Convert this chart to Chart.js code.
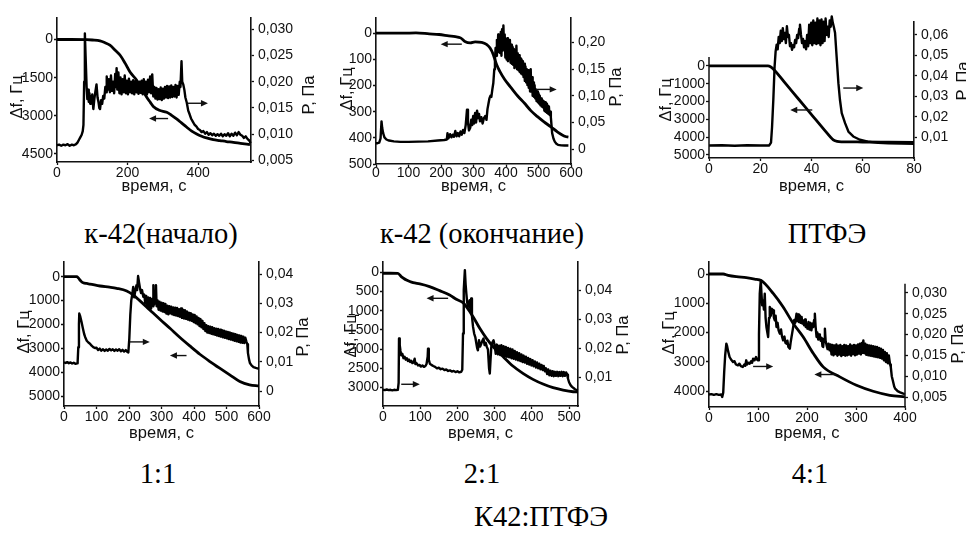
<!DOCTYPE html>
<html><head><meta charset="utf-8">
<script src="https://cdn.jsdelivr.net/npm/chart.js@4.4.1/dist/chart.umd.min.js"></script>
<style>
html,body{margin:0;padding:0;background:#fff;}
body{width:966px;height:534px;position:relative;overflow:hidden;}
canvas{position:absolute;}
.cap{position:absolute;width:400px;text-align:center;font-family:'Liberation Serif','Times New Roman',serif;font-size:28.5px;line-height:28px;color:#000;white-space:nowrap;}
</style></head><body>
<div class="cap" style="left:-39px;top:220px">к-42(начало)</div>
<div class="cap" style="left:282px;top:220px">к-42 (окончание)</div>
<div class="cap" style="left:627px;top:220px">ПТФЭ</div>
<div class="cap" style="left:-42px;top:460px">1:1</div>
<div class="cap" style="left:282px;top:460px">2:1</div>
<div class="cap" style="left:610px;top:460px">4:1</div>
<div class="cap" style="left:341px;top:503px">К42:ПТФЭ</div>
<canvas id="c1"></canvas><canvas id="c2"></canvas><canvas id="c3"></canvas>
<canvas id="c4"></canvas><canvas id="c5"></canvas><canvas id="c6"></canvas>
<script>
// ---------- DATA: [time s, value] ----------
// к-42 (начало)
const k42s_df = [[0,0],[40,0],[84,5],[100,20],[122,55],[135,120],[150,225],[165,420],[179,620],[193,930],[207,1280],[226,1600],[240,1920],[254,2260],[265,2480],[273,2630],[290,2780],[311,2860],[325,2980],[339,3120],[353,3280],[368,3450],[382,3600],[396,3710],[410,3800],[424,3870],[443,3940],[462,3975],[480,4010],[500,4040],[520,4080],[547,4130]];
const k42s_P = [[0,.0079],[6,.0080],[12,.0078],[18,.0080],[24,.0079],[30,.0081],[36,.0078],[42,.0080],[48,.0079],[54,.0081],[58,.0084],[62,.0089],[66,.0094],[70,.0099],[73,.0106],[75,.0118],[77,.0200],[79,.0292],[81,.0250],[84,.0190],[86,.0167],[88,.0185],[90,.0162],[92,.0178],[94,.0158],[96,.0172],[98,.0160],[100,.0176],[103,.0148],[106,.0168],[109,.0182],[112,.0195],[115,.0170],[118,.0160],[120,.0150],[122,.0148],[125,.0165],[128,.0158],[131,.0173],[134,.0168],[137,.0190],[139,.0180],[141,.0210],[144,.0185],[147,.0205],[150,.0180],[153,.0212],[156,.0183],[159,.0200],[162,.0178],[165,.0215],[167,.0190],[169,.0226],[171,.0185],[174,.0218],[177,.0178],[180,.0208],[183,.0176],[186,.0205],[189,.0180],[192,.0212],[195,.0178],[198,.0202],[201,.0176],[204,.0206],[207,.0180],[210,.0200],[213,.0178],[216,.0203],[219,.0176],[222,.0201],[225,.0180],[228,.0198],[231,.0177],[234,.0200],[237,.0179],[240,.0202],[243,.0176],[246,.0205],[249,.0178],[252,.0200],[255,.0176],[258,.0204],[261,.0180],[264,.0210],[267,.0178],[270,.0214],[273,.0172],[276,.0190],[279,.0168],[282,.0188],[285,.0166],[288,.0186],[291,.0167],[294,.0189],[297,.0165],[300,.0187],[303,.0168],[306,.0190],[309,.0170],[312,.0192],[315,.0169],[318,.0191],[321,.0170],[324,.0193],[327,.0171],[330,.0190],[333,.0172],[336,.0194],[339,.0170],[342,.0192],[345,.0175],[348,.0200],[350,.0190],[353,.0239],[355,.0200],[358,.0195],[361,.0185],[364,.0170],[368,.0160],[372,.0145],[376,.0138],[380,.0130],[385,.0124],[390,.0118],[395,.0115],[400,.0110],[405,.0108],[410,.0104],[415,.0106],[420,.0101],[425,.0104],[430,.0099],[435,.0102],[440,.0098],[445,.0101],[450,.0097],[455,.0100],[460,.0097],[465,.0101],[470,.0096],[475,.0100],[480,.0097],[485,.0102],[490,.0096],[495,.0101],[500,.0097],[505,.0103],[510,.0098],[515,.0104],[520,.0099],[525,.0097],[530,.0093],[535,.0096],[540,.0091],[545,.0088],[549,.0083]];
const k42s_xTicks = [0,200,400];
const k42s_dfTicks = [0,1500,3000,4500];
const k42s_PTicks = [0.005,0.010,0.015,0.020,0.025,0.030];
const k42s_PLabels = ['0,005','0,010','0,015','0,020','0,025','0,030'];

// к-42 (окончание)
const k42e_df = [[0,0],[83,0],[123,-1],[164,2.5],[194,5],[224,10],[244,13],[260,18],[275,33],[290,37],[305,33],[325,35],[340,43],[351,57],[361,82],[371,120],[381,146],[396,177],[416,209],[436,240],[457,268],[477,297],[497,319],[517,339],[537,357],[558,377],[583,395],[592,397]];
const k42e_P = [[0,.011],[5,.011],[10,.012],[14,.020],[17,.052],[19,.040],[22,.030],[26,.022],[32,.018],[40,.016],[55,.0145],[75,.0135],[100,.0135],[130,.014],[160,.0145],[190,.016],[210,.017],[218,.018],[220,.030],[223,.020],[228,.028],[232,.022],[236,.027],[240,.023],[244,.034],[248,.024],[252,.030],[256,.024],[260,.033],[264,.027],[268,.036],[272,.030],[276,.045],[280,.074],[283,.050],[286,.035],[290,.040],[293,.055],[296,.045],[299,.062],[302,.048],[305,.068],[308,.050],[311,.072],[314,.058],[317,.066],[320,.052],[324,.060],[328,.048],[332,.058],[336,.062],[340,.055],[343,.075],[346,.085],[349,.095],[352,.100],[355,.098],[358,.112],[361,.124],[364,.150],[366,.167],[368,.190],[370,.175],[372,.205],[374,.185],[376,.215],[378,.182],[380,.210],[382,.180],[384,.220],[386,.175],[388,.225],[390,.185],[392,.232],[394,.190],[396,.215],[398,.172],[400,.205],[402,.168],[404,.208],[406,.165],[408,.200],[410,.170],[412,.205],[414,.162],[416,.196],[418,.160],[420,.192],[422,.158],[424,.188],[426,.152],[428,.185],[430,.155],[432,.194],[434,.150],[436,.180],[438,.148],[440,.176],[442,.145],[444,.170],[446,.142],[448,.168],[450,.140],[452,.165],[454,.135],[456,.160],[458,.128],[460,.155],[462,.125],[464,.150],[466,.120],[468,.148],[470,.115],[472,.142],[474,.108],[476,.150],[478,.110],[480,.135],[482,.100],[484,.125],[486,.098],[488,.120],[490,.095],[492,.112],[494,.090],[496,.108],[498,.088],[500,.105],[502,.085],[504,.100],[506,.082],[508,.095],[510,.080],[512,.092],[514,.078],[516,.090],[518,.072],[520,.088],[522,.070],[524,.085],[526,.068],[528,.082],[530,.066],[532,.080],[534,.064],[536,.070],[538,.060],[540,.045],[542,.030],[546,.020],[550,.014],[555,.010],[560,.008],[570,.007],[580,.0068],[592,.0066]];
const k42e_xTicks = [0,100,200,300,400,500,600];
const k42e_dfTicks = [0,100,200,300,400,500];
const k42e_PTicks = [0,0.05,0.10,0.15,0.20];
const k42e_PLabels = ['0','0,05','0,10','0,15','0,20'];

// ПТФЭ
const ptfe_df = [[0,0],[10,0],[20,0],[23,0],[24,40],[25,150],[30,1010],[35,1870],[40,2730],[45,3590],[48.5,4150],[50,4240],[52,4260],[60,4270],[70,4280],[80,4290]];
const ptfe_P = [[0,.0061],[5,.0062],[10,.0060],[15,.0062],[20,.0061],[23.5,.0061],[24.2,.0075],[24.6,.0150],[25.1,.0284],[25.6,.0446],[26.0,.0520],[26.4,.0552],[26.8,.0530],[27.2,.0590],[27.6,.0560],[28.0,.0620],[28.4,.0570],[28.8,.0633],[29.2,.0580],[29.6,.0610],[30.0,.0560],[30.4,.0642],[30.8,.0590],[31.2,.0600],[31.6,.0545],[32.0,.0560],[32.4,.0528],[32.8,.0550],[33.2,.0540],[33.6,.0575],[34.0,.0560],[34.4,.0600],[34.8,.0585],[35.2,.0630],[35.5,.0650],[35.9,.0600],[36.3,.0560],[36.7,.0580],[37.1,.0540],[37.5,.0570],[37.9,.0530],[38.3,.0600],[38.7,.0545],[39.1,.0650],[39.5,.0560],[39.9,.0660],[40.3,.0550],[40.7,.0670],[41.1,.0560],[41.5,.0660],[41.9,.0555],[42.3,.0680],[42.7,.0560],[43.1,.0670],[43.5,.0550],[43.9,.0675],[44.3,.0560],[44.7,.0665],[45.1,.0570],[45.5,.0680],[45.9,.0600],[46.3,.0640],[46.7,.0590],[47.1,.0670],[47.5,.0640],[47.9,.0690],[48.3,.0660],[48.7,.0640],[49.2,.0609],[49.8,.0495],[50.5,.0365],[51.1,.0284],[51.8,.0219],[53.1,.0170],[54.4,.0129],[56.3,.0105],[58.9,.0089],[62,.0080],[66,.0074],[70,.0072],[75,.0070],[80,.0069]];
const ptfe_xTicks = [0,20,40,60,80];
const ptfe_dfTicks = [0,1000,2000,3000,4000,5000];
const ptfe_PTicks = [0.01,0.02,0.03,0.04,0.05,0.06];
const ptfe_PLabels = ['0,01','0,02','0,03','0,04','0,05','0,06'];

// 1:1
const r11_df = [[0,0],[39,0],[44,50],[49,139],[54,210],[59,251],[70,285],[80,307],[111,390],[140,440],[162,488],[193,600],[213,767],[233,1004],[264,1395],[295,1785],[326,2162],[356,2538],[387,2901],[418,3250],[449,3556],[479,3835],[510,4114],[541,4393],[571,4533],[600,4575]];
const r11_P = [[0,.0098],[5,.0096],[10,.0099],[15,.0095],[20,.0098],[25,.0094],[30,.0097],[35,.0093],[40,.0095],[42,.0100],[44,.0150],[46,.0230],[47,.0265],[50,.0255],[54,.0236],[58,.0215],[62,.0195],[65,.0185],[70,.0172],[75,.0166],[80,.0162],[85,.0155],[90,.0150],[95,.0147],[100,.0148],[105,.0140],[110,.0145],[115,.0138],[120,.0143],[125,.0137],[130,.0142],[135,.0138],[140,.0144],[145,.0139],[150,.0143],[155,.0137],[160,.0142],[165,.0138],[170,.0143],[175,.0136],[180,.0141],[185,.0135],[190,.0140],[195,.0134],[198,.0132],[201,.0180],[204,.0260],[207,.0310],[210,.0330],[213,.0356],[216,.0320],[219,.0340],[223,.0362],[225,.0345],[228,.0393],[231,.0370],[234,.0350],[237,.0335],[240,.0345],[244,.0322],[247,.0330],[250,.0300],[253,.0325],[256,.0290],[259,.0320],[262,.0285],[265,.0318],[268,.0282],[271,.0315],[274,.0290],[275,.0362],[277,.0295],[280,.0312],[283,.0362],[285,.0290],[288,.0310],[291,.0278],[294,.0305],[297,.0275],[300,.0302],[303,.0272],[306,.0300],[309,.0270],[312,.0298],[315,.0265],[318,.0292],[321,.0262],[324,.0290],[327,.0266],[330,.0288],[333,.0262],[336,.0286],[339,.0260],[342,.0285],[345,.0258],[348,.0284],[351,.0256],[354,.0280],[357,.0254],[360,.0282],[363,.0250],[366,.0278],[369,.0248],[372,.0276],[375,.0247],[378,.0272],[381,.0244],[384,.0268],[387,.0242],[390,.0266],[393,.0240],[396,.0262],[399,.0236],[402,.0260],[405,.0232],[408,.0255],[411,.0228],[414,.0250],[417,.0222],[420,.0246],[423,.0218],[426,.0240],[429,.0212],[432,.0232],[435,.0205],[438,.0225],[441,.0200],[444,.0222],[447,.0198],[450,.0220],[453,.0196],[456,.0218],[459,.0194],[462,.0215],[465,.0192],[468,.0213],[471,.0190],[474,.0212],[477,.0188],[480,.0210],[483,.0186],[486,.0208],[489,.0184],[492,.0206],[495,.0182],[498,.0204],[501,.0180],[504,.0202],[507,.0178],[510,.0200],[513,.0176],[516,.0198],[519,.0174],[522,.0196],[525,.0172],[528,.0194],[531,.0170],[534,.0192],[537,.0168],[540,.0190],[543,.0166],[546,.0188],[549,.0165],[552,.0186],[555,.0164],[558,.0182],[561,.0170],[564,.0160],[566,.0130],[569,.0110],[572,.0096],[577,.0088],[583,.0082],[590,.0079],[600,.0076]];
const r11_xTicks = [0,100,200,300,400,500,600];
const r11_dfTicks = [0,1000,2000,3000,4000,5000];
const r11_PTicks = [0,0.01,0.02,0.03,0.04];
const r11_PLabels = ['0','0,01','0,02','0,03','0,04'];

// 2:1
const r21_df = [[0,25],[20,25],[40,30],[49,113],[56,160],[63,200],[72,240],[81,269],[99,304],[125,373],[152,477],[179,590],[197,703],[215,790],[224,894],[242,1155],[260,1458],[278,1719],[296,1936],[323,2196],[349,2439],[376,2630],[403,2786],[430,2908],[457,3003],[484,3064],[511,3108],[524,3116]];
const r21_P = [[0,.0056],[5,.0055],[10,.0057],[15,.0055],[20,.0056],[25,.0054],[30,.0056],[35,.0055],[40,.0056],[42,.0080],[43,.0233],[45,.0210],[47,.0190],[49,.0175],[52,.0180],[55,.0165],[58,.0170],[61,.0160],[64,.0165],[67,.0155],[70,.0160],[73,.0152],[76,.0156],[79,.0148],[82,.0150],[85,.0163],[87,.0145],[90,.0148],[94,.0140],[98,.0142],[102,.0136],[106,.0140],[110,.0135],[114,.0138],[117,.0145],[120,.0170],[121,.0198],[123,.0160],[126,.0146],[130,.0142],[135,.0138],[140,.0135],[145,.0130],[150,.0132],[155,.0127],[160,.0129],[165,.0124],[170,.0126],[175,.0121],[180,.0123],[185,.0119],[190,.0121],[195,.0117],[200,.0120],[205,.0116],[210,.0118],[213,.0125],[215,.0250],[217,.0400],[220,.0469],[222,.0420],[224,.0388],[226,.0360],[228,.0342],[230,.0355],[233,.0365],[235,.0330],[237,.0371],[239,.0310],[242,.0273],[245,.0250],[248,.0238],[251,.0215],[253,.0200],[255,.0192],[258,.0227],[261,.0205],[264,.0215],[267,.0225],[270,.0233],[273,.0210],[276,.0218],[279,.0204],[282,.0195],[285,.0130],[287,.0112],[289,.0160],[291,.0204],[294,.0220],[297,.0227],[300,.0210],[303,.0180],[306,.0212],[309,.0178],[312,.0208],[315,.0176],[318,.0210],[321,.0174],[324,.0206],[327,.0172],[330,.0204],[333,.0170],[336,.0200],[339,.0168],[342,.0198],[345,.0165],[348,.0195],[351,.0163],[354,.0190],[357,.0160],[360,.0186],[363,.0158],[366,.0182],[369,.0155],[372,.0178],[375,.0152],[378,.0174],[381,.0150],[384,.0170],[387,.0146],[390,.0166],[393,.0143],[396,.0162],[399,.0140],[402,.0158],[405,.0137],[408,.0154],[411,.0133],[414,.0150],[417,.0130],[420,.0146],[423,.0127],[426,.0142],[429,.0124],[432,.0138],[435,.0120],[438,.0130],[441,.0110],[444,.0126],[447,.0106],[450,.0122],[453,.0104],[456,.0120],[459,.0103],[462,.0118],[465,.0104],[468,.0118],[471,.0103],[474,.0117],[477,.0104],[480,.0118],[483,.0103],[486,.0117],[489,.0104],[492,.0116],[495,.0108],[497,.0095],[500,.0082],[504,.0072],[508,.0066],[512,.0062],[516,.0058],[520,.0055],[524,.0054]];
const r21_xTicks = [0,100,200,300,400,500];
const r21_dfTicks = [0,500,1000,1500,2000,2500,3000];
const r21_PTicks = [0.01,0.02,0.03,0.04];
const r21_PLabels = ['0,01','0,02','0,03','0,04'];

// 4:1
const r41_df = [[0,0],[29,0],[39,46],[56,91],[76,125],[93,171],[107,228],[131,661],[151,1117],[172,1687],[192,2142],[213,2712],[233,3168],[267,3510],[301,3795],[335,4000],[369,4137],[400,4190]];
const r41_P = [[0,.0056],[5,.0057],[10,.0055],[15,.0057],[20,.0055],[25,.0056],[27,.0050],[29,.0060],[31,.0110],[33,.0150],[35.4,.0178],[37,.0172],[39,.0160],[42,.0146],[45,.0140],[49,.0134],[52,.0136],[55,.0128],[59,.0126],[62,.0130],[65,.0124],[69,.0122],[72,.0128],[74,.0125],[76,.0138],[78,.0128],[80,.0132],[83,.0130],[86,.0136],[88,.0132],[90,.0142],[93,.0138],[96,.0146],[98,.0140],[100,.0138],[102,.0200],[103.6,.0298],[105.7,.0330],[107,.0300],[108.5,.0270],[110.4,.0282],[112,.0260],[113.8,.0298],[115.5,.0240],[117.2,.0218],[119,.0205],[120.7,.0194],[122.5,.0240],[124,.0266],[126,.0245],[128,.0262],[130.9,.0258],[132.5,.0240],[134.3,.0234],[136,.0245],[137.7,.0218],[140,.0228],[142,.0210],[144.5,.0202],[147,.0212],[149,.0195],[151.3,.0186],[154,.0195],[156,.0180],[158,.0178],[160,.0185],[162,.0170],[165,.0166],[166.5,.0180],[168.4,.0194],[170,.0205],[171.8,.0218],[174,.0235],[176,.0228],[178.6,.0250],[180,.0232],[182,.0248],[183.5,.0230],[185.4,.0246],[187,.0228],[189,.0242],[190.5,.0226],[192.2,.0234],[194,.0222],[196,.0236],[197.5,.0218],[199,.0226],[201,.0214],[203,.0230],[205,.0212],[207,.0228],[209,.0210],[211,.0226],[212.7,.0218],[214.5,.0235],[216,.0250],[217.5,.0220],[219.5,.0194],[221,.0205],[223,.0188],[224.5,.0200],[226.3,.0194],[228,.0185],[230,.0192],[231.5,.0172],[233,.0170],[234.7,.0190],[236.5,.0214],[238,.0185],[240,.0174],[242,.0165],[244,.0178],[246,.0162],[248,.0176],[250,.0152],[252,.0175],[254,.0150],[256,.0174],[258,.0153],[260,.0176],[262,.0149],[264,.0173],[266,.0152],[268,.0175],[270,.0148],[272,.0172],[274,.0151],[276,.0175],[278,.0149],[280,.0174],[282,.0150],[284,.0172],[286,.0152],[288,.0176],[290,.0149],[292,.0173],[294,.0153],[296,.0175],[298,.0150],[300,.0174],[302,.0152],[304,.0176],[306,.0154],[308,.0178],[310,.0152],[312,.0180],[314,.0156],[315,.0186],[317,.0155],[319,.0178],[321,.0151],[323,.0175],[325,.0150],[327,.0174],[329,.0149],[331,.0173],[333,.0148],[335,.0172],[337,.0147],[339,.0171],[341,.0146],[343,.0170],[345,.0145],[347,.0168],[349,.0144],[351,.0166],[353,.0142],[355,.0163],[357,.0138],[359,.0158],[361,.0134],[363,.0155],[365,.0131],[367,.0150],[369.5,.0128],[371,.0122],[373,.0100],[375,.0090],[378,.0075],[380,.0070],[385,.0064],[390,.0061],[396.7,.0058],[400,.0057]];
const r41_xTicks = [0,100,200,300,400];
const r41_dfTicks = [0,1000,2000,3000,4000];
const r41_PTicks = [0.005,0.010,0.015,0.020,0.025,0.030];
const r41_PLabels = ['0,005','0,010','0,015','0,020','0,025','0,030'];

const dfTitle = 'Δf, Гц', pTitle = 'P, Па', tTitle = 'время, с';

// ---------- LAYOUT ----------
const PADL = 60, PADR = 70, PADT = 14, PADB = 45;
const panels = [
  {id:'c1', df:k42s_df, P:k42s_P, area:[57,18,251,162], x:[0,550], yL:[-845,4815], yR:[0.0047,0.03216],
   xt:k42s_xTicks, lt:k42s_dfTicks, rt:k42s_PTicks, rl:k42s_PLabels, tL:[17,97], tR:[309,95], xTY:186, fs:14, xPad:0,
   arrows:[{ax:'R',from:371,to:428,y:0.0159},{ax:'L',from:315,to:261,y:3107}]},
  {id:'c2', df:k42e_df, P:k42e_P, area:[376,18,571,164], x:[0,600], yL:[-58,500], yR:[-0.028,0.246],
   xt:k42e_xTicks, lt:k42e_dfTicks, rt:k42e_PTicks, rl:k42e_PLabels, tL:[347,89], tR:[616,87], xTY:186, fs:14, xPad:-2,
   arrows:[{ax:'L',from:264,to:199,y:42},{ax:'R',from:492,to:556,y:0.112}]},
  {id:'c3', df:ptfe_df, P:ptfe_P, area:[709,22,914,158], x:[0,80], yL:[-2470,5170], yR:[0,0.0663], leftFrom:-506,
   xt:ptfe_xTicks, lt:ptfe_dfTicks, rt:ptfe_PTicks, rl:ptfe_PLabels, tL:[666,100], tR:[963,81], xTY:186, fs:14, xPad:0,
   arrows:[{ax:'R',from:52.4,to:60.2,y:0.0341},{ax:'L',from:40.3,to:31.7,y:2472}]},
  {id:'c4', df:r11_df, P:r11_P, area:[64,262,259,406], x:[0,600], yL:[-616,5419], yR:[-0.0051,0.0441],
   xt:r11_xTicks, lt:r11_dfTicks, rt:r11_PTicks, rl:r11_PLabels, tL:[24,332], tR:[303,337], xTY:433, fs:14, xPad:0,
   arrows:[{ax:'R',from:203,to:264,y:0.0168},{ax:'L',from:377,to:326,y:3305}]},
  {id:'c5', df:r21_df, P:r21_P, area:[383,262,578,406], x:[0,524], yL:[-268,3479], yR:[0,0.0497],
   xt:r21_xTicks, lt:r21_dfTicks, rt:r21_PTicks, rl:r21_PLabels, tL:[351,336], tR:[623,335], xTY:433, fs:14, xPad:0,
   arrows:[{ax:'R',from:49,to:99,y:0.0075},{ax:'L',from:175,to:117,y:677}]},
  {id:'c6', df:r41_df, P:r41_P, area:[709,262,905,407], x:[0,400], yL:[-410,4537], yR:[0.0026,0.0374], rightFrom:0.0322,
   xt:r41_xTicks, lt:r41_dfTicks, rt:r41_PTicks, rl:r41_PLabels, tL:[669,333], tR:[958,344], xTY:433, fs:14, xPad:0,
   arrows:[{ax:'R',from:90,to:131,y:0.01233},{ax:'L',from:260,to:215,y:3429}]}
];

const INK = '#111';
const deco = {
  id:'deco',
  afterDraw(chart, args, o) {
    const ctx = chart.ctx, ca = chart.chartArea;
    const sx = chart.scales.x, yl = chart.scales.yL, yr = chart.scales.yR;
    ctx.save();
    ctx.strokeStyle = INK; ctx.fillStyle = INK;
    ctx.lineWidth = 1.5;
    if (o.leftFrom !== undefined) {
      ctx.beginPath(); ctx.moveTo(ca.left, yl.getPixelForValue(o.leftFrom)); ctx.lineTo(ca.left, ca.bottom + 0.75); ctx.stroke();
    }
    if (o.rightFrom !== undefined) {
      ctx.beginPath(); ctx.moveTo(ca.right, yr.getPixelForValue(o.rightFrom)); ctx.lineTo(ca.right, ca.bottom + 0.75); ctx.stroke();
    }
    o.arrows.forEach(a => {
      const sc = a.ax === 'L' ? yl : yr;
      const y = sc.getPixelForValue(a.y);
      const x1 = sx.getPixelForValue(a.from), x2 = sx.getPixelForValue(a.to);
      const d = x2 > x1 ? 1 : -1;
      ctx.lineWidth = 1.4;
      ctx.beginPath(); ctx.moveTo(x1, y); ctx.lineTo(x2 - d * 5, y); ctx.stroke();
      ctx.beginPath(); ctx.moveTo(x2, y); ctx.lineTo(x2 - d * 7, y - 3.2); ctx.lineTo(x2 - d * 7, y + 3.2); ctx.closePath(); ctx.fill();
    });
    const ox = o.off[0], oy = o.off[1];
    ctx.font = '16.5px "Liberation Sans", Arial, sans-serif';
    ctx.textAlign = 'center'; ctx.textBaseline = 'middle';
    [[o.tL, dfTitle], [o.tR, pTitle]].forEach(([p, t]) => {
      ctx.save(); ctx.translate(p[0] - ox, p[1] - oy); ctx.rotate(-Math.PI / 2); ctx.fillText(t, 0, 0); ctx.restore();
    });
    ctx.fillText(tTitle, (ca.left + ca.right) / 2, o.xTY - oy);
    ctx.restore();
  }
};

function axisCommon(fs, pad) {
  return {
    type:'linear', bounds:'data',
    grid:{display:true, drawOnChartArea:false, drawTicks:true, tickLength:3, tickColor:INK, tickWidth:1.3},
    border:{display:true, color:INK, width:1.6},
    ticks:{font:{family:'"Liberation Sans", Arial, sans-serif', size:fs}, color:INK, padding:pad, autoSkip:false, maxRotation:0, minRotation:0}
  };
}

panels.forEach(p => {
  const [L, T, R, B] = p.area;
  const cv = document.getElementById(p.id);
  const W = (R - L) + PADL + PADR, H = (B - T) + PADT + PADB;
  cv.width = W; cv.height = H;
  cv.style.left = (L - PADL) + 'px'; cv.style.top = (T - PADT) + 'px';
  cv.style.width = W + 'px'; cv.style.height = H + 'px';

  const xs = axisCommon(p.fs, p.xPad);
  Object.assign(xs, {position:'bottom', min:p.x[0], max:p.x[1],
    afterFit: s => { s.height = PADB; },
    afterBuildTicks: s => { s.ticks = p.xt.map(v => ({value:v})); }});
  xs.ticks.callback = (v, i) => String(p.xt[i]);

  const yls = axisCommon(p.fs, 1);
  Object.assign(yls, {position:'left', reverse:true, min:p.yL[0], max:p.yL[1],
    afterFit: s => { s.width = PADL; },
    afterBuildTicks: s => { s.ticks = p.lt.map(v => ({value:v})); }});
  yls.ticks.callback = (v, i) => String(p.lt[i]);
  if (p.leftFrom !== undefined) yls.border.display = false;

  const yrs = axisCommon(p.fs, 4);
  Object.assign(yrs, {position:'right', min:p.yR[0], max:p.yR[1],
    afterFit: s => { s.width = PADR; },
    afterBuildTicks: s => { s.ticks = p.rt.map(v => ({value:v})); }});
  yrs.ticks.callback = (v, i) => p.rl[i];
  if (p.rightFrom !== undefined) yrs.border.display = false;

  new Chart(cv, {
    type:'line',
    data:{datasets:[
      {data:p.df, yAxisID:'yL', borderColor:'#000', borderWidth:2.8, pointRadius:0, cubicInterpolationMode:'monotone', fill:false},
      {data:p.P, yAxisID:'yR', borderColor:'#000', borderWidth:2.4, pointRadius:0, tension:0, fill:false, clip:false, borderJoinStyle:'round'}
    ]},
    options:{
      responsive:false, animation:false, devicePixelRatio:1, events:[],
      layout:{padding:{top:PADT, left:0, right:0, bottom:0}},
      plugins:{legend:{display:false}, tooltip:{enabled:false},
        deco:{off:[L - PADL, T - PADT], leftFrom:p.leftFrom, rightFrom:p.rightFrom, arrows:p.arrows, tL:p.tL, tR:p.tR, xTY:p.xTY}},
      scales:{x:xs, yL:yls, yR:yrs}
    },
    plugins:[deco]
  });
});
</script>
</body></html>
